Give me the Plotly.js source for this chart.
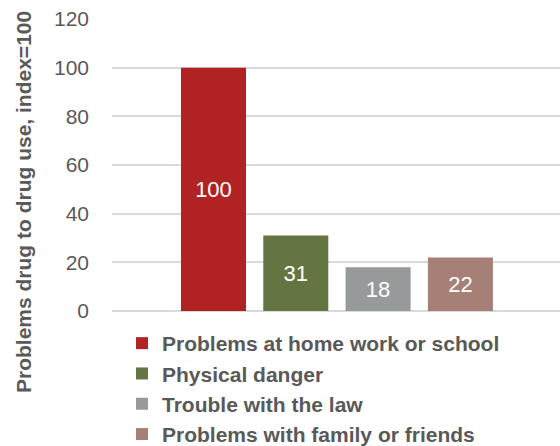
<!DOCTYPE html>
<html>
<head>
<meta charset="utf-8">
<script src="https://cdn.plot.ly/plotly-3.0.1.min.js"></script>
<style>html,body{margin:0;padding:0;background:#fff;}#chart{width:560px;height:446px;}</style>
</head>
<body>
<div id="chart"></div>
<script>
const categories = ["Problems at home work or school", "Physical danger", "Trouble with the law", "Problems with family or friends"];
const values = [100, 31, 18, 22];
const labels = ["100", "31", "18", "22"];
const colors = ["#B12323", "#647542", "#969A9A", "#A67F77"];
const yTicks = [0, 20, 40, 60, 80, 100, 120];
const yTitle = "Problems drug to drug use, index=100";

const FONT = "Liberation Sans, Arial, sans-serif";
const GREY = "#595959";

const traces = categories.map((c, i) => ({
  type: "bar",
  name: c,
  x: [i],
  y: [values[i]],
  text: [labels[i]],
  width: 0.79,
  marker: {color: colors[i]},
  textposition: "inside",
  insidetextanchor: "middle",
  textangle: 0,
  textfont: {family: FONT, size: 22, color: "#ffffff"},
  hoverinfo: "skip"
}));

const W = 560, H = 446, L = 112, T = 19, B = 135;
const plotW = W - L, plotH = H - T - B;

const layout = {
  width: W, height: H,
  margin: {l: L, r: 0, t: T, b: B, pad: 0},
  paper_bgcolor: "#ffffff", plot_bgcolor: "#ffffff",
  showlegend: true,
  barmode: "overlay",
  xaxis: {range: [-1.233, 4.21], showticklabels: false, showgrid: false, zeroline: false, showline: false, ticks: "", fixedrange: true},
  yaxis: {range: [0, 120], tickvals: yTicks, ticktext: yTicks.map(String), showgrid: true, gridcolor: "#d9d9d9", gridwidth: 2,
          zeroline: true, zerolinecolor: "#d9d9d9", zerolinewidth: 2, showline: false, ticks: "",
          ticklabelstandoff: 22, tickfont: {family: FONT, size: 21, color: GREY}, fixedrange: true},
  legend: {orientation: "v", xref: "paper", yref: "container",
           x: (122 - L) / plotW, xanchor: "left",
           y: 1 - 323 / H, yanchor: "top",
           font: {family: FONT, size: 21, color: GREY, weight: "bold"}, itemwidth: 30,
           bgcolor: "rgba(0,0,0,0)", traceorder: "normal", borderwidth: 0},
  annotations: [{text: "<b>" + yTitle + "</b>", xref: "paper", yref: "paper",
                 x: (23 - L) / plotW, y: ((H - B) - 202) / plotH, xanchor: "center", yanchor: "middle",
                 textangle: -90, showarrow: false, font: {family: FONT, size: 21, color: GREY}}]
};

Plotly.newPlot("chart", traces, layout, {displayModeBar: false, staticPlot: true});
</script>
</body>
</html>
